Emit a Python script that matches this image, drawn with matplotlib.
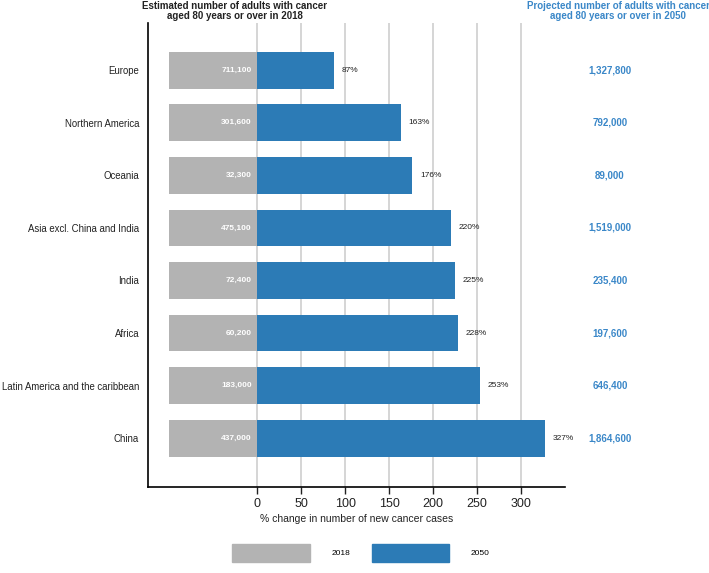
import matplotlib.pyplot as plt
from matplotlib.patches import Patch

plt.rcParams['font.family'] = ['Liberation Sans', 'DejaVu Sans']

regions = ["Europe", "Northern America", "Oceania", "Asia excl. China and India",
           "India", "Africa", "Latin America and the caribbean", "China"]
pct_change = [87, 163, 176, 220, 225, 228, 253, 327]
cases_2018 = ["711,100", "301,600", "32,300", "475,100", "72,400", "60,200", "183,000", "437,000"]
cases_2050 = ["1,327,800", "792,000", "89,000", "1,519,000", "235,400", "197,600", "646,400", "1,864,600"]
xticks = [0, 50, 100, 150, 200, 250, 300]

grey = "#b3b3b3"
blue = "#2c7bb6"
head_blue = "#3a87c8"
dark = "#222222"

fig = plt.figure(figsize=(7.09, 5.73), dpi=100)
ax = fig.add_axes([0.209, 0.150, 0.588, 0.810])

ypos = list(range(len(regions)))
gray_len = 100
ax.barh(ypos, [-gray_len] * len(regions), height=0.70, color=grey, zorder=2)
ax.barh(ypos, pct_change, height=0.70, color=blue, zorder=2)

for y, p, a, b in zip(ypos, pct_change, cases_2018, cases_2050):
    ax.text(-6, y, a, ha="right", va="center", color="white", fontsize=6, fontweight="bold", zorder=3)
    ax.text(p + 9, y, f"{p}%", ha="left", va="center", color=dark, fontsize=6)
    ax.text(401, y, b, ha="center", va="center", color=head_blue, fontsize=7, fontweight="bold", clip_on=False)

for t in xticks:
    ax.axvline(t, color="#d5d5d5", lw=1.4, zorder=1)

ax.set_xlim(-124, 350)
ax.set_ylim(7.93, -0.9)
ax.set_yticks(ypos)
ax.set_yticklabels(regions, fontsize=6.9, color=dark)
ax.tick_params(axis="y", length=0, pad=6.5)
ax.set_xticks(xticks)
ax.tick_params(axis="x", labelsize=9, length=5, width=1, color=dark, labelcolor=dark, pad=3)
ax.set_xlabel("% change in number of new cancer cases", fontsize=7.5, color=dark, labelpad=3)

for s in ["top", "right"]:
    ax.spines[s].set_visible(False)
ax.spines["left"].set_linewidth(1.2)
ax.spines["bottom"].set_linewidth(1.2)

fig.text(235 / 709, 1 - 11 / 573, "Estimated number of adults with cancer\naged 80 years or over in 2018",
         ha="center", va="center", fontsize=7, fontweight="bold", color=dark, linespacing=1.05)
fig.text(618 / 709, 1 - 11 / 573, "Projected number of adults with cancer\naged 80 years or over in 2050",
         ha="center", va="center", fontsize=7, fontweight="bold", color=head_blue, linespacing=1.05)

handles = [Patch(color=grey), Patch(color=blue)]
fig.legend(handles, ["2018", "2050"], loc="center", bbox_to_anchor=(361 / 709, 1 - 553 / 573),
           ncol=2, frameon=False, fontsize=6, handlelength=9.3, handleheight=3.1,
           columnspacing=2.6, handletextpad=2.6)

fig.savefig("out.png", dpi=100)
